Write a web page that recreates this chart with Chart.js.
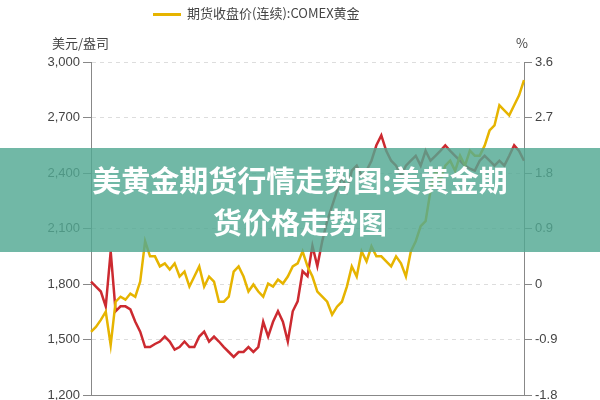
<!DOCTYPE html>
<html>
<head>
<meta charset="utf-8">
<script src="https://cdn.jsdelivr.net/npm/chart.js@4/dist/chart.umd.min.js"></script>
<style>
  body { margin: 0; background: #fff; font-family: "Noto Sans CJK SC", sans-serif; }
  #wrap { position: relative; width: 600px; height: 400px; overflow: hidden; }
  .txt { position: absolute; color: #444; font-size: 13px; }
  #banner { position: absolute; left: 0; top: 148px; width: 600px; height: 104px;
    background: rgba(82, 168, 146, 0.82); color: #fff; font-weight: bold; font-size: 29px;
    text-align: center; line-height: 42px; padding-top: 10px; box-sizing: border-box; }
  #legend { position: absolute; top: 3px; left: 153px; font-size: 13px; color: #444; }
  #legend span.l { display: inline-block; width: 28px; height: 3px; background: #e6b400; vertical-align: middle; margin-right: 6px; }
</style>
</head>
<body>
<div id="wrap">
  <canvas id="chart" width="600" height="406"></canvas>
  <div id="legend"><span class="l"></span>期货收盘价(连续):COMEX黄金</div>
  <div class="txt" style="left:52px;top:33px;">美元/盎司</div>
  <div class="txt" style="left:516px;top:33px;">%</div>
  <div id="banner">美黄金期货行情走势图:美黄金期<br>货价格走势图</div>
</div>
<script>
// COMEX gold close (USD/oz), left axis
const goldPrice = [1542, 1569, 1607, 1651, 1471, 1705, 1732, 1716, 1749, 1732, 1814, 2032, 1950, 1950, 1896, 1912,
  1879, 1912, 1841, 1868, 1787, 1841, 1896, 1787, 1841, 1814, 1705, 1705, 1732, 1868, 1896, 1841, 1760, 1798,
  1760, 1732, 1803, 1787, 1825, 1803, 1841, 1896, 1912, 1977, 1896, 1841, 1760, 1732, 1705, 1635, 1678, 1705,
  1787, 1896, 1841, 1977, 1923, 2004, 1950, 1950, 1923, 1896, 1950, 1912, 1841, 1977, 2032, 2113, 2140, 2304,
  2412, 2358, 2440, 2467, 2412, 2494, 2440, 2521, 2494, 2494, 2548, 2630, 2657, 2766, 2739, 2712, 2766, 2820, 2902];
// second series (%), right axis
const ratePct = [0.04, -0.04, -0.12, -0.36, 0.53, -0.44, -0.36, -0.36, -0.41, -0.61, -0.77, -1.02, -1.02, -0.97,
  -0.93, -0.85, -0.93, -1.06, -1.02, -0.93, -1.02, -1.02, -0.85, -0.77, -0.93, -0.85, -0.93, -1.02, -1.10, -1.18,
  -1.10, -1.10, -1.02, -1.10, -1.02, -0.61, -0.85, -0.61, -0.44, -0.61, -0.93, -0.44, -0.28, 0.21, 0.13, 0.62,
  0.29, 0.70, 1.02, 1.27, 1.51, 1.76, 1.51, 1.84, 1.92, 1.76, 1.84, 2.00, 2.25, 2.41, 2.16, 2.00, 1.92, 1.76,
  1.92, 2.00, 2.08, 1.92, 2.16, 2.00, 2.08, 2.16, 2.25, 2.16, 2.08, 2.00, 1.92, 1.87, 1.84, 2.00, 2.08, 2.00,
  1.92, 2.00, 1.92, 2.08, 2.25, 2.16, 2.00];
const labels = goldPrice.map(() => "");
const leftTicks = [1200, 1500, 1800, 2100, 2400, 2700, 3000];
const rightTicks = [-1.8, -0.9, 0, 0.9, 1.8, 2.7, 3.6];

const ctx = document.getElementById("chart").getContext("2d");
new Chart(ctx, {
  type: "line",
  data: {
    labels: labels,
    datasets: [
      { label: "期货收盘价(连续):COMEX黄金", data: goldPrice, yAxisID: "y", borderColor: "#e6b400",
        borderWidth: 2.5, pointRadius: 0, tension: 0 },
      { label: "%", data: ratePct, yAxisID: "y1", borderColor: "#cc2a30",
        borderWidth: 2.5, pointRadius: 0, tension: 0 },
    ],
  },
  options: {
    responsive: false,
    animation: false,
    layout: { padding: { top: 62, bottom: 0 } },
    plugins: { legend: { display: false }, tooltip: { enabled: false } },
    scales: {
      x: {
        afterFit: (s) => { s.height = 6; },
        grid: { display: false },
        border: { color: "#888" },
        ticks: { display: false },
      },
      y: {
        position: "left",
        min: 1200, max: 3000,
        afterFit: (s) => { s.width = 91; },
        afterBuildTicks: (s) => { s.ticks = leftTicks.map((v) => ({ value: v })); },
        grid: { color: "#ddd", tickColor: "#888", drawOnChartArea: true },
        border: { color: "#888", dash: [4, 4] },
        ticks: { color: "#444", font: { size: 13 }, callback: (v) => v.toLocaleString("en-US") },
      },
      y1: {
        position: "right",
        min: -1.8, max: 3.6,
        afterFit: (s) => { s.width = 76; },
        afterBuildTicks: (s) => { s.ticks = rightTicks.map((v) => ({ value: v })); },
        grid: { drawOnChartArea: false, tickColor: "#888" },
        border: { color: "#888" },
        ticks: { color: "#444", font: { size: 13 }, callback: (v) => String(v) },
      },
    },
  },
});
</script>
</body>
</html>
